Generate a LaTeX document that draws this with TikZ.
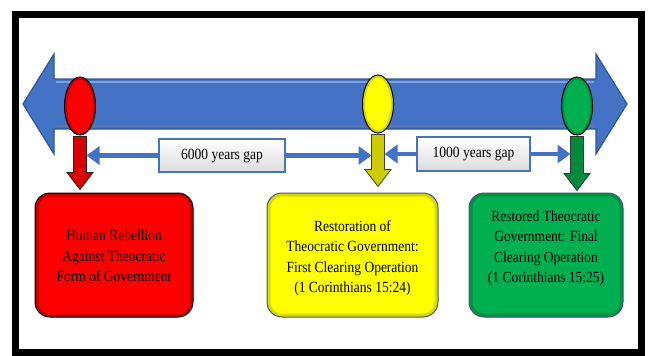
\documentclass[tikz,border=0pt]{standalone}
\usepackage{graphicx}
\usepackage{fontspec}
\setmainfont{Liberation Serif}
\usetikzlibrary{calc,shapes.geometric,arrows.meta}
\definecolor{tlblue}{HTML}{4472C4}
\definecolor{tlblueD}{HTML}{2F5597}
\definecolor{tlblueL}{HTML}{7EA1DF}
\definecolor{bRed}{HTML}{FF0000}
\definecolor{bRedD}{HTML}{C80000}
\definecolor{bYel}{HTML}{FFFF00}
\definecolor{bYelD}{HTML}{D8D800}
\definecolor{bGrn}{HTML}{00B050}
\definecolor{bGrnD}{HTML}{009442}
\definecolor{aRed}{HTML}{D80000}
\definecolor{aYel}{HTML}{CCCC00}
\definecolor{aGrn}{HTML}{008A3E}
\definecolor{edgeBlue}{HTML}{41597A}
% block arrow pointing down: #1 start point, #2 tip point, #3 style
\newcommand\downblock[3]{%
  \draw[#3] let \p1=(#1), \p2=(#2) in
    (\x1-6.5pt,\y1) -- (\x1+6.5pt,\y1) -- (\x1+6.5pt,\y2+17pt) -- (\x1+13pt,\y2+17pt)
    -- (\x1,\y2) -- (\x1-13pt,\y2+17pt) -- (\x1-6.5pt,\y2+17pt) -- cycle;}
\newcommand\vtext[1]{\scalebox{1}[1.15]{\begin{tabular}{@{}c@{}}#1\end{tabular}}}
\tikzset{
  timeline/.style={fill=tlblue, draw=tlblueD, line width=1.2pt, line join=miter},
  dot/.style={ellipse, draw=black, line width=1pt,
    minimum width=31pt, minimum height=58pt, inner sep=0pt},
  dotbevel/.style={path picture={\draw[#1, line width=5pt]
    (path picture bounding box.center) ellipse [x radius=15.5pt, y radius=29pt];}},
  box/.style={rectangle, rounded corners=15pt, line width=1pt,
    inner sep=0pt, minimum height=124pt},
  boxbevel/.style={path picture={\draw[#1, line width=7pt, rounded corners=15pt]
    (path picture bounding box.south west) rectangle (path picture bounding box.north east);}},
  btext/.style={font=\fontsize{13.5}{17.5}\selectfont, inner sep=0pt, align=center},
  downR/.style={fill=aRed, draw=black!85, line width=0.8pt},
  downY/.style={fill=aYel, draw=black!75, line width=0.8pt},
  downG/.style={fill=aGrn, draw=black!80, line width=0.8pt},
  gapbox/.style={rectangle, draw=tlblue, line width=1.5pt, top color=white,
    bottom color=black!14, inner sep=0pt, font=\fontsize{13.5}{17}\selectfont},
  gaparrow/.style={draw=tlblue, line width=4.5pt, -{Triangle[width=18pt,length=13pt]}}
}
\begin{document}
\begin{tikzpicture}[x=1pt,y=-1pt]
\useasboundingbox (0,0) rectangle (649,356);
% outer frame
\draw[line width=7pt] (15.5,14.5) rectangle (641.5,352.5);
\draw[line width=3pt] (12,13) -- (645,13);
% timeline double arrow
\draw[timeline] (23,104) -- (54,54) -- (54,79) -- (596,79) -- (596,54) -- (627,104)
  -- (596,154) -- (596,129) -- (54,129) -- (54,154) -- cycle;
\draw[tlblueL, line width=2pt] (56,82) -- (594,82);
\draw[tlblueD!80, line width=1.5pt] (56,126) -- (594,126);
% markers
\node[dot, fill=bRed, dotbevel=bRedD] (rc) at (80,106) {};
\node[dot, fill=bYel, dotbevel=bYelD] (yc) at (378,104) {};
\node[dot, fill=bGrn, dotbevel=bGrnD] (gc) at (577,106) {};
% boxes
\node[box, draw=black, fill=bRed, boxbevel=bRedD, minimum width=158pt] (rbox) at (114,255) {};
\node[box, draw=edgeBlue, fill=bYel, boxbevel=bYelD, minimum width=171pt] (ybox) at (352.5,255) {};
\node[box, draw=edgeBlue, fill=bGrn, boxbevel=bGrnD, minimum width=154pt] (gbox) at (546,255) {};
\node[btext] (rtext) at ($(rbox.center)+(0,2)$) {\vtext{Human Rebellion\\Against Theocratic\\Form of Government}};
\node[btext] (ytext) at ($(ybox.center)+(0,3)$) {\vtext{Restoration of\\Theocratic Government:\\First Clearing Operation\\(1 Corinthians 15:24)}};
\node[btext] (gtext) at ($(gbox.center)+(0,-7)$) {\vtext{Restored Theocratic\\Government: Final\\Clearing Operation\\(1 Corinthians 15:25)}};
% down arrows
\downblock{$(rc.south)+(0,1)$}{$(rc.south |- rbox.north)+(0,-3)$}{downR}
\downblock{$(yc.south)+(0,1)$}{$(yc.south |- ybox.north)+(0,-6)$}{downY}
\downblock{$(gc.south)+(0,1)$}{$(gc.south |- gbox.north)+(0,-2)$}{downG}
% shaft edges
\coordinate (rR) at ($(rc.south)+(6.5,0)$);
\coordinate (yL) at ($(yc.south)+(-6.5,0)$);
\coordinate (yR) at ($(yc.south)+(6.5,0)$);
\coordinate (gL) at ($(gc.south)+(-6.5,0)$);
% gap labels
\node[gapbox, minimum width=126pt, minimum height=33pt] (gapA) at (222,155.5) {\vtext{6000 years gap}};
\node[gapbox, minimum width=113pt, minimum height=34pt] (gapB) at (473.5,154) {\vtext{1000 years gap}};
\draw[gaparrow] (gapA.west) -- (gapA.west -| rR);
\draw[gaparrow] (gapA.east) -- (gapA.east -| yL);
\draw[gaparrow] (gapB.west) -- (gapB.west -| yR);
\draw[gaparrow] (gapB.east) -- (gapB.east -| gL);
\end{tikzpicture}
\end{document}
